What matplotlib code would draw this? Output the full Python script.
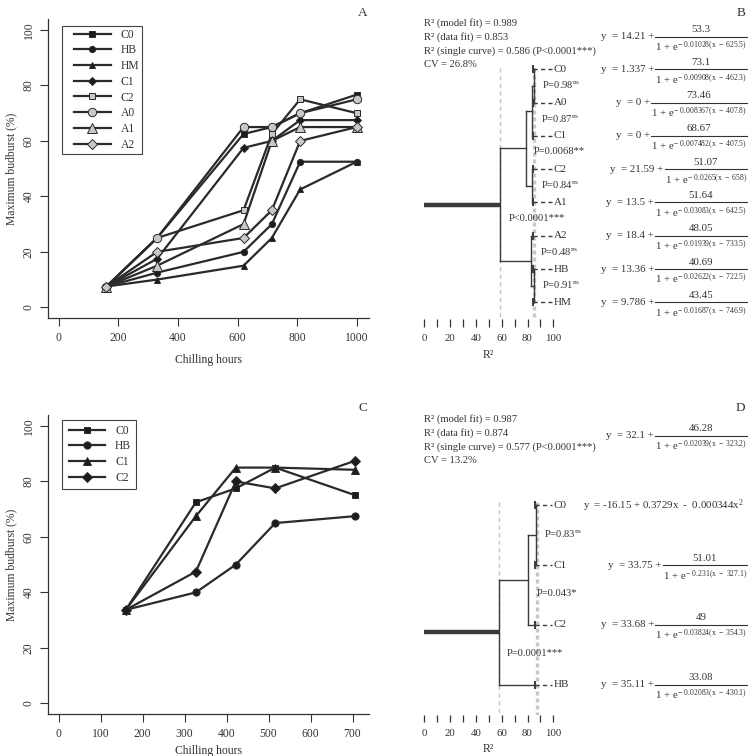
import matplotlib
matplotlib.use('Agg')
import matplotlib.pyplot as plt
from matplotlib.lines import Line2D
from matplotlib.legend_handler import HandlerLine2D

plt.rcParams['font.family'] = ['Liberation Serif', 'DejaVu Serif']
plt.rcParams['mathtext.fontset'] = 'custom'
plt.rcParams['mathtext.rm'] = 'Liberation Serif'
plt.rcParams['mathtext.it'] = 'Liberation Serif'
plt.rcParams['mathtext.bf'] = 'Liberation Serif:bold'

# ---- panel A data (chilling hours vs max budburst)
hours_a = [160, 330, 620, 715, 810, 1000]
c0_a = [7.5, 25, 62.5, 65, 70, 76.7]
hb_a = [7.5, 12.5, 20, 30, 52.5, 52.5]
hm_a = [7.5, 10, 15, 25, 42.5, 52.5]
c1_a = [7.5, 17.5, 57.5, 60, 67.5, 67.5]
c2_a = [7.5, 25, 35, 62.5, 75, 70]
a0_a = [7.5, 25, 65, 65, 70, 75]
a1_a = [7.5, 15, 30, 60, 65, 65]
a2_a = [7.5, 20, 25, 35, 60, 65]
names_a = ['C0', 'HB', 'HM', 'C1', 'C2', 'A0', 'A1', 'A2']

# ---- panel C data
hours_c = [160, 327, 422, 516, 707]
c0_c = [33.7, 72.5, 77.5, 85, 75]
hb_c = [33.7, 40, 50, 65, 67.5]
c1_c = [33.7, 67.5, 85, 85, 84.2]
c2_c = [33.7, 47.5, 80, 77.5, 87.5]
names_c = ['C0', 'HB', 'C1', 'C2']

# ---- panel B dendrogram (R2 heights) and fits
leaves_b = ['C0', 'A0', 'C1', 'C2', 'A1', 'A2', 'HB', 'HM']
merges_b = [(0, 1, 85.3), (8, 2, 83.2), (3, 4, 83.2), (9, 10, 78.6),
            (6, 7, 84.8), (5, 12, 82.7), (11, 13, 58.6)]
leaf_r2_b = 84.5
pvals_b = [r'P=0.98$^{\mathrm{ns}}$', r'P=0.87$^{\mathrm{ns}}$', 'P=0.0068**',
           r'P=0.84$^{\mathrm{ns}}$', 'P<0.0001***', r'P=0.48$^{\mathrm{ns}}$',
           r'P=0.91$^{\mathrm{ns}}$']
stats_b = ['R\u00b2 (model fit) = 0.989', 'R\u00b2 (data fit) = 0.853',
           'R\u00b2 (single curve) = 0.586 (P<0.0001***)', 'CV = 26.8%']
r2_single_b, r2_data_b = 58.6, 85.3
# logistic fits y = a + b / (1 + e^-k(x - x0)); first is the single curve
fit_a_b = [14.21, 1.337, 0, 0, 21.59, 13.5, 18.4, 13.36, 9.786]
fit_b_b = [53.3, 73.1, 73.46, 68.67, 51.07, 51.64, 48.05, 40.69, 43.45]
fit_k_b = [0.01028, 0.00908, 0.008367, 0.007482, 0.0265, 0.03083, 0.01939, 0.02622, 0.01687]
fit_x0_b = [625.5, 462.3, 407.8, 407.5, 658, 642.5, 733.5, 722.5, 746.9]

# ---- panel D dendrogram and fits
leaves_d = ['C0', 'C1', 'C2', 'HB']
merges_d = [(0, 1, 86.6), (4, 2, 80.1), (5, 3, 57.7)]
leaf_r2_d = 85.8
pvals_d = [r'P=0.83$^{\mathrm{ns}}$', 'P=0.043*', 'P=0.0001***']
stats_d = ['R\u00b2 (model fit) = 0.987', 'R\u00b2 (data fit) = 0.874',
           'R\u00b2 (single curve) = 0.577 (P<0.0001***)', 'CV = 13.2%']
r2_single_d, r2_data_d = 57.7, 87.4
fit_a_d = [32.1, 33.75, 33.68, 35.11]
fit_b_d = [46.28, 51.01, 49, 33.08]
fit_k_d = [0.02039, 0.231, 0.03824, 0.02083]
fit_x0_d = [323.2, 327.1, 354.3, 430.1]
quad_d = (-16.15, 0.3729, 0.000344)

W, H = 750, 756
TC = '#333333'
LC = '#2a2a2a'
BLACK = '#1c1c1c'
GREY = '#c8c8c8'

fig = plt.figure(figsize=(W / 100, H / 100), dpi=100)


def px_axes(l, t, r, b):
    return fig.add_axes([l / W, 1 - b / H, (r - l) / W, (b - t) / H])


def ftext(x, y, s, **kw):
    kw.setdefault('color', TC)
    return fig.text(x / W, 1 - y / H, s, **kw)


def style_line_axes(ax, xlim, xticks, xpad_label):
    ax.set_xlim(*xlim)
    ax.set_ylim(-4, 104)
    ax.set_xticks(xticks)
    ax.set_yticks(range(0, 101, 20))
    for s in ['top', 'right']:
        ax.spines[s].set_visible(False)
    for s in ['left', 'bottom']:
        ax.spines[s].set_color(TC)
        ax.spines[s].set_linewidth(0.9)
    ax.tick_params(colors=TC, labelcolor=TC, labelsize=8.4, length=5.5, width=0.8)
    ax.tick_params(axis='x', pad=4.5)
    ax.tick_params(axis='y', pad=3.8)
    for t in ax.get_yticklabels():
        t.set_rotation(90)
        t.set_va('center')
    ax.set_xlabel('Chilling hours', fontsize=8.4, color=TC, labelpad=xpad_label)
    ax.set_ylabel('Maximum budburst (%)', fontsize=8.4, color=TC, labelpad=4.3)


def add_legend(ax, x, y, bpad, hlen, xpad):
    leg = ax.legend(loc='upper left', bbox_to_anchor=(x / W, 1 - y / H),
                    bbox_transform=fig.transFigure, borderaxespad=0,
                    fontsize=8.4, frameon=True, fancybox=False, framealpha=1,
                    borderpad=bpad, labelspacing=0.32, handlelength=hlen,
                    handletextpad=0.85, numpoints=1,
                    handler_map={Line2D: HandlerLine2D(xpad=xpad)})
    leg.get_frame().set_edgecolor('#444444')
    leg.get_frame().set_linewidth(0.8)
    for t in leg.get_texts():
        t.set_color(TC)


# ================= panel A
axA = px_axes(47.7, 18.9, 369.3, 318.4)
series_a = [c0_a, hb_a, hm_a, c1_a, c2_a, a0_a, a1_a, a2_a]
marks_a = [('s', BLACK, 4), ('o', BLACK, 4.5), ('^', BLACK, 5), ('D', BLACK, 4),
           ('s', GREY, 5), ('o', GREY, 6), ('^', GREY, 6.5), ('D', GREY, 5.5)]
for name, vals, (m, fc, ms) in zip(names_a, series_a, marks_a):
    axA.plot(hours_a, vals, color=LC, lw=1.6, marker=m, ms=ms, mfc=fc,
             mec=LC, mew=0.7, label=name)
style_line_axes(axA, (-37, 1042), range(0, 1001, 200), 7)
add_legend(axA, 62, 25.7, 0.25, 3.95, 0.75)

# ================= panel C
axC = px_axes(47.7, 414.9, 369.3, 714.4)
series_c = [c0_c, hb_c, c1_c, c2_c]
marks_c = [('s', 4.8), ('o', 5.2), ('^', 5.8), ('D', 4.8)]
for name, vals, (m, ms) in zip(names_c, series_c, marks_c):
    axC.plot(hours_c, vals, color=LC, lw=1.6, marker=m, ms=ms, mfc=BLACK,
             mec=LC, mew=0.7, label=name)
style_line_axes(axC, (-26, 740), range(0, 701, 100), 3.5)
add_legend(axC, 62, 420, 0.4, 3.3, 0.18)


# ================= dendrogram panels
def dendro_axes(ax, leaves, merges, leaf_h, r2_single, r2_data, pvals, p_x, tlen):
    ax.set_xlim(0, 100)
    ax.set_ylim(len(leaves) - 0.5, -0.5)
    for s in ax.spines.values():
        s.set_visible(False)
    ax.set_yticks([])
    ax.set_xticks(range(0, 101, 10))
    ax.set_xticklabels([str(v) if v % 20 == 0 else '' for v in range(0, 101, 10)])
    ax.tick_params(axis='x', colors=TC, labelcolor=TC, labelsize=7.8,
                   length=tlen, width=0.9, pad=5)
    ax.set_xlabel('R\u00b2', fontsize=8.4, color=TC, labelpad=4)
    n = len(leaves)
    ax.vlines(r2_single, -0.05, n - 0.5, color='#c4c4c4', lw=1, linestyles=(0, (3, 2.5)), zorder=1)
    ax.vlines(r2_data, -0.05, n - 0.5, color='#c8c8c8', lw=2.4, linestyles=(0, (1.2, 0.9)), zorder=1)
    dc = '#3a3a3a'
    ys = list(range(n))
    hs = [leaf_h] * n
    for a, b, h in merges:
        for c in (a, b):
            ax.plot([hs[c], h], [ys[c], ys[c]], color=dc, lw=1, zorder=3)
        ax.plot([h, h], [ys[a], ys[b]], color=dc, lw=1, zorder=3)
        ys.append((ys[a] + ys[b]) / 2)
        hs.append(h)
    ax.plot([0, hs[-1]], [ys[-1], ys[-1]], color=dc, lw=3.2, solid_capstyle='butt', zorder=3)
    ax.plot([leaf_h] * n, range(n), ls='none', marker='|', ms=6, mew=1.4, color=dc, zorder=4)
    for i, name in enumerate(leaves):
        ax.plot([leaf_h, 98.8], [i, i], color=dc, lw=1, dashes=(3.0, 2.4), zorder=3)
        ax.text(100.5, i, name, ha='left', va='center', fontsize=8, color=TC, clip_on=False)
    for i, (p, x) in enumerate(zip(pvals, p_x)):
        ax.text(x, i + 0.47, p, ha='left', va='center', fontsize=7.6, color=TC, clip_on=False)


def fmt(v):
    return '%g' % v


def logistic_eq(ybar, a, b, k, x0, xr=747, fs=7.8):
    r = fig.canvas.get_renderer()
    den = ftext(xr, ybar + 2.5, r'$1\,+\,\mathrm{e}^{-\ %s(x\ -\ %s)}$' % (fmt(k), fmt(x0)),
                ha='right', va='top', fontsize=fs)
    bb = den.get_window_extent(r)
    xl = bb.x0
    fig.add_artist(Line2D([xl / W, xr / W], [1 - ybar / H] * 2, color=TC, lw=0.8))
    ftext((xl + xr) / 2, ybar - 2.5, fmt(b), ha='center', va='bottom', fontsize=fs)
    ftext(xl - 1, ybar, 'y  = %s +' % fmt(a), ha='right', va='center', fontsize=fs)


def leaf_px(ax, i):
    return H - ax.transData.transform((0, i))[1]


# panel B
axB = px_axes(424.3, 52.7, 553.3, 319.0)
dendro_axes(axB, leaves_b, merges_b, leaf_r2_b, r2_single_b, r2_data_b, pvals_b,
            [91.4, 90.6, 85, 90.6, 65.1, 89.7, 91.4], 6)
for j, s in enumerate(stats_b):
    ftext(424.3, 23.3 + j * 13.7, s, ha='left', va='center', fontsize=7.6)
rows_b = [36.7] + [leaf_px(axB, i) for i in range(len(leaves_b))]
for yb, a, b, k, x0 in zip(rows_b, fit_a_b, fit_b_b, fit_k_b, fit_x0_b):
    logistic_eq(yb, a, b, k, x0)

# panel D
axD = px_axes(424.3, 475.4, 553.3, 714.6)
dendro_axes(axD, leaves_d, merges_d, leaf_r2_d, r2_single_d, r2_data_d, pvals_d,
            [92.8, 87.1, 63.9], 5.2)
for j, s in enumerate(stats_d):
    ftext(424.3, 419 + j * 13.9, s, ha='left', va='center', fontsize=7.6)
rows_d = [435.5] + [leaf_px(axD, i) for i in (1, 2, 3)]
for yb, a, b, k, x0 in zip(rows_d, fit_a_d, fit_b_d, fit_k_d, fit_x0_d):
    logistic_eq(yb, a, b, k, x0)
q0, q1, q2 = quad_d
ftext(744, leaf_px(axD, 0), r'y  = %s + %sx  -  %sx$^2$' % (fmt(q0), fmt(q1), '%.6f' % q2),
      ha='right', va='center', fontsize=7.8)

# panel letters
for lab, x, y in [('A', 362.7, 12.7), ('B', 741, 12.7), ('C', 363.3, 408.3), ('D', 740.7, 408.3)]:
    ftext(x, y, lab, ha='center', va='center', fontsize=9.5)

fig.savefig('out.png', dpi=100)
